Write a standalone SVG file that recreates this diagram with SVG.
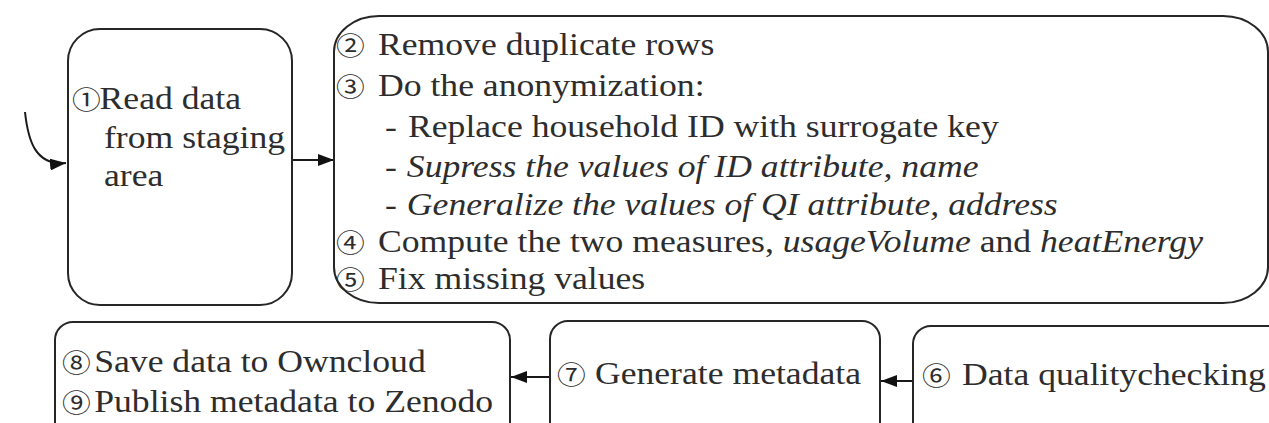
<svg xmlns="http://www.w3.org/2000/svg" width="1269" height="423" viewBox="0 0 1269 423">
<style>
.box{fill:#fff;stroke:#262626;stroke-width:2}
.t{font-family:"Liberation Serif","Times New Roman",serif;font-size:31px;fill:#2d2d2d}
.i{font-style:italic}
.n{font-family:"Noto Sans CJK JP","DejaVu Sans",sans-serif;font-size:25px;fill:#2d2d2d}
.c{fill:none;stroke:#1a1a1a;stroke-width:2}
</style>
<defs>
<marker id="ah" markerUnits="userSpaceOnUse" markerWidth="16" markerHeight="12" refX="16" refY="6" orient="auto">
<path d="M0,0 L16,6 L0,12 z" fill="#111"/>
</marker>
</defs>
<rect width="1269" height="423" fill="#fff"/>
<g id="connectors">
<path class="c" d="M25,112 C28,140 35,166 66,163" marker-end="url(#ah)"/>
<path class="c" d="M292,160 L334,160" marker-end="url(#ah)"/>
<path class="c" d="M913,381 L881,381" marker-end="url(#ah)"/>
<path class="c" d="M550,377 L511,377" marker-end="url(#ah)"/>
</g>
<g id="n1">
<rect class="box" x="68" y="29" width="224" height="276" rx="32"/>
<text class="t" transform="translate(72,109) scale(1.15,1)"><tspan class="n" x="0">①</tspan><tspan x="24">Read data</tspan></text>
<text class="t" transform="translate(104,148) scale(1.15,1)">from staging</text>
<text class="t" transform="translate(104,186) scale(1.15,1)">area</text>
</g>
<g id="n2">
<rect class="box" x="334" y="16" width="934" height="287" rx="45" ry="36"/>
<text class="t" transform="translate(336,55) scale(1.15,1)"><tspan class="n" x="0">②</tspan><tspan x="36.5">Remove duplicate rows</tspan></text>
<text class="t" transform="translate(336,96) scale(1.15,1)"><tspan class="n" x="0">③</tspan><tspan x="36.5">Do the anonymization:</tspan></text>
<text class="t" transform="translate(385,137) scale(1.15,1)">- <tspan x="20">Replace household ID with surrogate key</tspan></text>
<text class="t" transform="translate(385,177) scale(1.15,1)">- <tspan x="19" class="i">Supress the values of ID attribute, name</tspan></text>
<text class="t" transform="translate(385,215) scale(1.15,1)">- <tspan x="19" class="i">Generalize the values of QI attribute, address</tspan></text>
<text class="t" transform="translate(336,252) scale(1.15,1)"><tspan class="n" x="0">④</tspan><tspan x="36.5">Compute the two measures, </tspan><tspan class="i">usageVolume</tspan> and <tspan class="i">heatEnergy</tspan></text>
<text class="t" transform="translate(336,289) scale(1.15,1)"><tspan class="n" x="0">⑤</tspan><tspan x="36.5">Fix missing values</tspan></text>
</g>
<g id="n6">
<rect class="box" x="913" y="326" width="372" height="140" rx="18"/>
<text class="t" transform="translate(922,385) scale(1.15,1)"><tspan class="n" x="0">⑥</tspan><tspan x="34.8">Data qualitychecking</tspan></text>
</g>
<g id="n7">
<rect class="box" x="550" y="321" width="330" height="140" rx="18"/>
<text class="t" transform="translate(557,384) scale(1.15,1)"><tspan class="n" x="0">⑦</tspan><tspan x="33">Generate metadata</tspan></text>
</g>
<g id="n8">
<rect class="box" x="55" y="322" width="455" height="140" rx="18"/>
<text class="t" transform="translate(62,372) scale(1.15,1)"><tspan class="n" x="0">⑧</tspan><tspan x="28">Save data to Owncloud</tspan></text>
<text class="t" transform="translate(62,412) scale(1.15,1)"><tspan class="n" x="0">⑨</tspan><tspan x="28">Publish metadata to Zenodo</tspan></text>
</g>
</svg>
